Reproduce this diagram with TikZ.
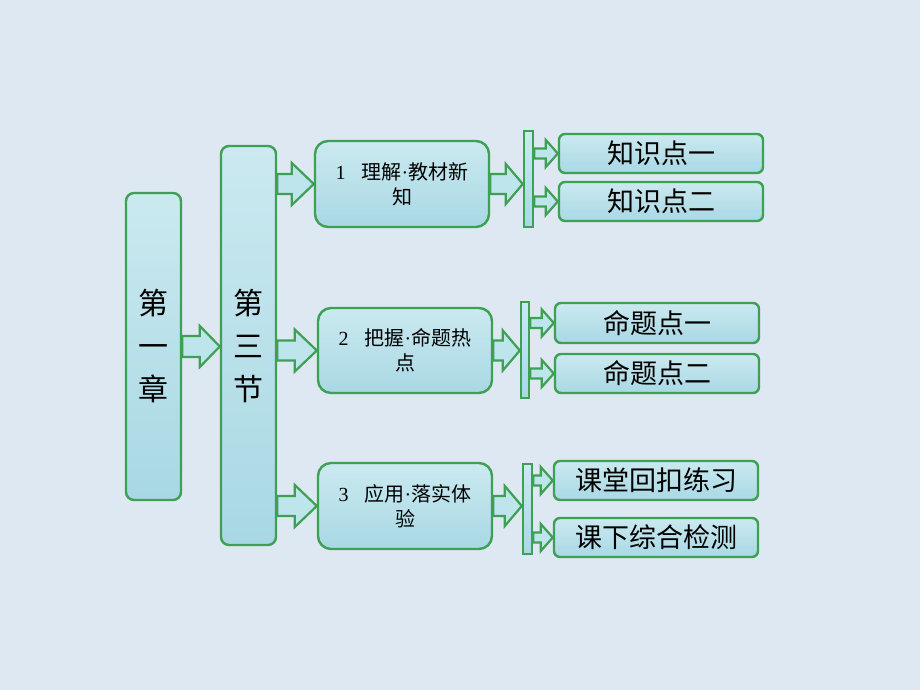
\documentclass[tikz,border=0pt]{standalone}
\usepackage{fontspec}
\setmainfont{Liberation Serif}
\newfontfamily\cjk{Noto Sans CJK SC}
\usetikzlibrary{calc}
\definecolor{bg}{RGB}{222,232,243}
\definecolor{gr}{RGB}{62,160,82}
\definecolor{cy}{RGB}{190,228,236}
\definecolor{cyd}{RGB}{168,216,228}
\tikzset{
  bx/.style={draw=gr, line width=2.4pt, top color=cy!80!white, bottom color=cyd, inner sep=0pt, text=black},
  bigbox/.style={bx, rounded corners=8pt, minimum width=55pt, font=\cjk\fontsize{30}{43}\selectfont, align=center},
  midbox/.style={bx, rounded corners=13pt, minimum width=174pt, minimum height=86pt, font=\cjk\fontsize{20}{25}\selectfont, align=center},
  smallbox/.style={bx, rounded corners=6pt, minimum width=204pt, minimum height=39pt, font=\cjk\fontsize{27}{30}\selectfont},
  barbox/.style={bx, minimum width=9pt, minimum height=96pt},
  arr/.style={draw=gr, line width=2.2pt, fill=cy, line join=miter},
}
\newcommand\barr[5]{%
  \draw[arr] let \p1=#1, \p2=#2 in
    (\x1,\y1+#3pt) -- (\x2-#5pt,\y1+#3pt) -- (\x2-#5pt,\y1+#4pt) -- (\x2,\y1)
    -- (\x2-#5pt,\y1-#4pt) -- (\x2-#5pt,\y1-#3pt) -- (\x1,\y1-#3pt) -- cycle;}
\newcommand\mdot{{\rmfamily\textperiodcentered}}
\begin{document}
\begin{tikzpicture}[x=1pt,y=-1pt]
\fill[bg] (0,0) rectangle (920,690);
\useasboundingbox (0,0) rectangle (920,690);
% level 0 and 1
\node[bigbox, minimum height=307pt] (ch) at (153.5,346.5) {第\\一\\章};
\node[bigbox, minimum height=399pt] (sec) at (248.5,345.5) {第\\三\\节};
% level 2
\node[midbox] (A) at (402,184) {{\rmfamily 1}\hspace{0.8em}理解\mdot 教材新\\知};
\node[midbox, minimum height=85pt] (B) at (405,350.5) {{\rmfamily 2}\hspace{0.8em}把握\mdot 命题热\\点};
\node[midbox] (C) at (405,506) {{\rmfamily 3}\hspace{0.8em}应用\mdot 落实体\\验};
% bars
\node[barbox] (bA) at (528.5,179) {};
\node[barbox, minimum width=8pt] (bB) at (525,350) {};
\node[barbox, minimum height=90pt] (bC) at (527.5,509) {};
% leaves
\node[smallbox] (a1) at (661,153.5) {知识点一};
\node[smallbox] (a2) at (661,201.5) {知识点二};
\node[smallbox, minimum height=40pt] (b1) at (657,323) {命题点一};
\node[smallbox] (b2) at (657,373.5) {命题点二};
\node[smallbox] (c1) at (656,480.5) {课堂回扣练习};
\node[smallbox] (c2) at (656,537.5) {课下综合检测};
% arrows
\barr{(ch.east)}{(sec.west |- ch.east)}{10.5}{20.5}{20}
\barr{(sec.east |- A.west)}{(A.west)}{10}{21}{22}
\barr{(sec.east |- B.west)}{(B.west)}{10}{21}{22}
\barr{(sec.east |- C.west)}{(C.west)}{10}{21}{22}
\barr{(A.east)}{(bA.west |- A.east)}{10}{20}{17}
\barr{(B.east)}{(bB.west |- B.east)}{10}{20}{17}
\barr{(C.east)}{(bC.west |- C.east)}{10}{20}{17}
\barr{(bA.east |- a1.west)}{(a1.west)}{5}{13.5}{12}
\barr{(bA.east |- a2.west)}{(a2.west)}{5}{13.5}{12}
\barr{(bB.east |- b1.west)}{(b1.west)}{5}{13.5}{12}
\barr{(bB.east |- b2.west)}{(b2.west)}{5}{13.5}{12}
\barr{(bC.east |- c1.west)}{(c1.west)}{5}{13.5}{12}
\barr{(bC.east |- c2.west)}{(c2.west)}{5}{13.5}{12}
\end{tikzpicture}
\end{document}
